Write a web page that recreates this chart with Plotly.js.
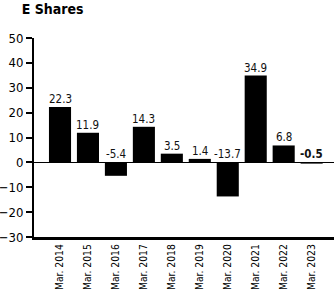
<!DOCTYPE html>
<html><head><meta charset="utf-8">
<script src="https://cdn.plot.ly/plotly-3.0.1.min.js"></script>
<style>html,body{margin:0;padding:0;background:#fff}#chart{width:334px;height:292px}</style>
</head><body><div id="chart"></div>
<script>
const categories = ["Mar. 2014","Mar. 2015","Mar. 2016","Mar. 2017","Mar. 2018","Mar. 2019","Mar. 2020","Mar. 2021","Mar. 2022","Mar. 2023"];
const values = [22.3, 11.9, -5.4, 14.3, 3.5, 1.4, -13.7, 34.9, 6.8, -0.5];
const labels = ["22.3","11.9","-5.4","14.3","3.5","1.4","-13.7","34.9","6.8","-0.5"];
const yTicks = [-30,-20,-10,0,10,20,30,40,50];

const font = "Liberation Sans Narrow, DejaVu Sans Condensed, Liberation Sans, sans-serif";
const annotations = values.map((v,i)=>({
  x: i, y: Math.max(v,0), xref:'x', yref:'y', text: i===9 ? '<b>'+labels[i]+'</b>' : labels[i],
  showarrow:false, yanchor:'bottom', yshift:-1,
  font:{family:font,size:11.5,color:'#111'}
}));

Plotly.newPlot('chart',[{
  type:'bar', x: categories.map((c,i)=>i), y: values,
  marker:{color:'#000'}, hoverinfo:'none'
}],{
  width:334,height:292,
  margin:{l:34,r:0,t:38,b:55},
  paper_bgcolor:'#fff',plot_bgcolor:'#fff',
  bargap:0.21,
  showlegend:false,
  title:{text:'E Shares',x:0.065,xanchor:'left',y:0.985,yanchor:'top',font:{family:font,size:14,color:'#000',weight:600}},
  xaxis:{range:[-0.93,9.8],tickmode:'array',tickvals:categories.map((c,i)=>i),ticktext:categories,
    tickangle:-90,tickfont:{family:font,size:10.3,color:'#000'},showgrid:false,zeroline:false,
    showline:true,linecolor:'#000',linewidth:3,ticks:'',fixedrange:true},
  yaxis:{range:[-30,50],tickmode:'array',tickvals:yTicks,showgrid:false,
    zeroline:true,zerolinecolor:'#000',zerolinewidth:1,
    showline:true,linecolor:'#000',linewidth:2,ticks:'outside',ticklen:6,tickwidth:2,tickcolor:'#000',
    tickfont:{family:font,size:13,color:'#000'},fixedrange:true},
  annotations:annotations
},{staticPlot:true});
</script></body></html>
